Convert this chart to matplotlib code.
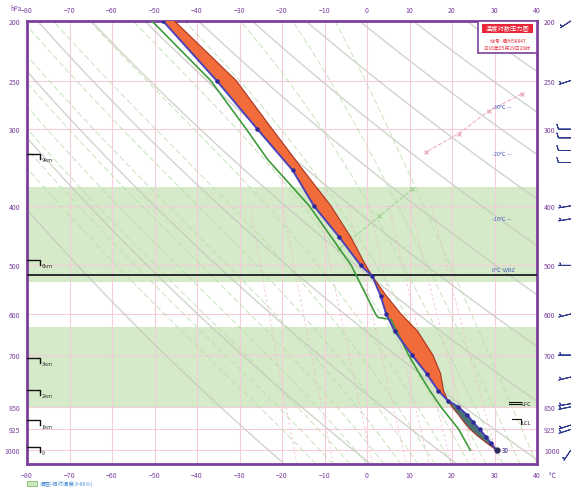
import numpy as np
import matplotlib.pyplot as plt
from matplotlib.patches import Rectangle
from matplotlib.ticker import NullLocator

plt.rcParams['font.family'] = ['Noto Sans CJK SC', 'DejaVu Sans']

# 探空数据 (hPa, ℃)
levels = [1000, 975, 950, 925, 900, 875, 850, 830, 800, 750, 700, 640, 600,
          560, 520, 500, 450, 400, 350, 300, 250, 200]
temp = [30.5, 29.2, 28.0, 26.5, 25.0, 23.5, 21.5, 19.0, 16.8, 14.0, 10.6, 6.5,
        4.5, 3.2, 1.2, -1.5, -6.5, -12.5, -17.5, -25.8, -35.4, -48.0]
parcel = [30.5, 28.3, 26.2, 24.3, 22.8, 21.5, 20.0, 19.0, 18.0, 17.3, 15.5, 11.9,
          8.0, 4.5, 1.2, -0.3, -3.8, -8.5, -15.0, -22.3, -30.8, -45.3]

dew_p = [1000, 925, 850, 800, 750, 700, 640, 612, 608, 600, 500, 400, 336, 300, 250, 200]
dew_t = [24.3, 21.6, 17.4, 14.8, 12.3, 9.8, 7.0, 5.6, 2.6, 2.0, -3.7, -13.6, -23.4,
         -28.4, -36.8, -50.6]

# 其他辅助曲线
pink_p = [263, 280, 305, 327]
pink_t = [36.4, 28.7, 21.6, 13.9]
gdash_p = [376, 416, 470]
gdash_t = [10.6, 2.9, -6.5]

# 湿层 (RH>=80%) 及 0℃层
wet_layers = [(373, 532), (631, 850)]
zero_level = 518

# 高度标记
height_labels = ['9km', '6km', '3km', '2km', '1km', '0']
height_p = [329, 490, 707, 798, 894, 988]

# 温度标记
tlabel_text = ['-30℃ —', '-20℃ —', '-10℃ —', '0℃  WBZ']
tlabel_p = [276, 329, 420, 508]

# 风
wind_p = [1000, 925, 910, 850, 840, 760, 700, 600, 500, 420, 400, 340, 325, 310, 300, 250, 200]
wind_u = [2, 6, 6, 5, 6, 4, 4, 4, 5, 6, 6, 8, 8, 8, 8, 6, 6]
wind_v = [3, 2, 2, 1, 1, 1, 0, 1, 0, 1, 1, 0, 0, 0, 0, 2, 4]

p_ticks = [200, 250, 300, 400, 500, 600, 700, 850, 925, 1000]
t_ticks = list(range(-80, 41, 10))

purple = '#7B3F9E'
pink = '#F5CCDA'

fig = plt.figure(figsize=(5.71, 4.89), dpi=100)
ax = fig.add_axes([27/571, 1-465/489, 510/571, 443/489])
ax.set_yscale('log')
ax.set_xlim(-80, 40)
ax.set_ylim(1053, 200)
ax.yaxis.set_minor_locator(NullLocator())
ax.set_yticks(p_ticks)
ax.set_yticklabels([str(p) for p in p_ticks])
ax.set_xticks(t_ticks)
ax.tick_params(labeltop=True, labelright=True, length=0, labelsize=5,
               colors=purple, pad=5)
for s in ax.spines.values():
    s.set_color(purple)
    s.set_linewidth(2)

# 背景网格
pp = np.geomspace(200, 1053, 120)
for t in t_ticks:
    ax.plot([t, t], [200, 1053], color=pink, lw=0.8, zorder=1)
for p in p_ticks[1:]:
    ax.plot([-80, 40], [p, p], color=pink, lw=0.8, zorder=1)

# 干绝热线
for th in range(250, 520, 20):
    ax.plot(th * (pp / 1000) ** 0.286 - 273.15, pp, color='#C4CABF', lw=1.0,
            alpha=0.8, zorder=1)

# 湿绝热线
def moist(t0):
    Rd, cp, Lv, eps = 287.0, 1005.0, 2.5e6, 0.622
    ps = np.geomspace(1053, 200, 200)
    T = t0 + 273.15
    out = [T]
    for i in range(1, len(ps)):
        es = 6.112 * np.exp(17.67 * (T - 273.15) / (T - 29.65))
        rs = eps * es / (ps[i-1] - es)
        dTdp = (Rd * T + Lv * rs) / (cp + Lv**2 * rs * eps / (Rd * T**2)) / ps[i-1]
        T = T + dTdp * (ps[i] - ps[i-1])
        out.append(T)
    return np.array(out) - 273.15, ps

for t0 in range(-12, 44, 4):
    mt, mp = moist(t0)
    ax.plot(mt, mp, color='#B9DDAB', lw=0.7, ls=(0, (6, 3)), alpha=0.8, zorder=1)

# 等饱和比湿线
for w in [1, 2, 4, 7, 10, 14, 20, 28]:
    pw = np.geomspace(400, 1053, 40)
    es = w * pw / (622 + w)
    lg = np.log(es / 6.112)
    ax.plot(243.5 * lg / (17.67 - lg), pw, color='#F0C0D0', lw=0.6,
            ls=(0, (3, 3)), zorder=1)

ax.plot(pink_t, pink_p, color='#EFB0C4', lw=0.8, ls='--', marker='x', ms=3, zorder=2)
ax.plot(gdash_t, gdash_p, color='#A8D19A', lw=0.8, ls='--', marker='x', ms=3, zorder=2)

# 湿层
for top, bot in wet_layers:
    ax.axhspan(top, bot, color='#CDE7BF', alpha=0.85, lw=0, zorder=0.5)

ax.plot([-80, 40], [zero_level, zero_level], color='#1E1E1E', lw=1.3, zorder=4)

# CAPE / CIN
lv = np.array(levels)
te = np.array(temp)
pa = np.array(parcel)
ax.fill_betweenx(lv, te, pa, where=pa >= te, interpolate=True,
                 color='#F26B3A', lw=0, zorder=3)
ax.fill_betweenx(lv, te, pa, where=pa < te, interpolate=True,
                 color='#4B7574', lw=0, zorder=3)
ax.plot(parcel, levels, color='#A8331E', lw=0.8, zorder=4)
ax.plot(dew_t, dew_p, color='#3E9B3A', lw=1.2, zorder=4)
ax.plot(temp, levels, color='#4A42B8', lw=1.4, marker='o', ms=2.2,
        mfc='#2E2A9A', mec='#2E2A9A', zorder=5)
ax.plot([temp[0]], [levels[0]], marker='o', ms=3.5, color='#2A2A60', zorder=6)
ax.text(temp[0] + 1.2, levels[0], '30', fontsize=4.5, color='#2A2A80',
        va='center', zorder=6)

# 高度标记
for lab, p in zip(height_labels, height_p):
    ax.plot([-80, -77, -77], [p, p, p * 1.018], color='#111111', lw=1, zorder=6,
            clip_on=False)
    ax.text(-76.6, p * 1.022, lab, fontsize=4, color='#333333', va='center', zorder=6)

# 温度标记
for lab, p in zip(tlabel_text, tlabel_p):
    ax.text(29.3, p, lab, fontsize=4, color='#4A5FC0', va='center', zorder=6)

# LFC / LCL
ax.plot([33.5, 36.3], [834, 834], color='#111111', lw=0.8, zorder=6)
ax.plot([33.5, 36.3], [842, 842], color='#111111', lw=0.8, zorder=6)
ax.text(36.4, 840, 'LFC', fontsize=4, color='#222222', va='center', zorder=6)
ax.plot([34.0, 36.3, 36.3], [888, 888, 905], color='#111111', lw=0.8, zorder=6)
ax.text(36.4, 900, 'LCL', fontsize=4, color='#222222', va='center', zorder=6)

# 标题框
ax.add_patch(Rectangle((0.884, 0.928), 0.116, 0.072, transform=ax.transAxes,
                       facecolor='white', edgecolor=purple, lw=1.2, zorder=7))
ax.add_patch(Rectangle((0.892, 0.972), 0.1, 0.022, transform=ax.transAxes,
                       facecolor='#E8283A', edgecolor='none', zorder=8))
ax.text(0.942, 0.983, '温度对数压力图', transform=ax.transAxes, fontsize=4.5,
        color='white', ha='center', va='center', zorder=9)
ax.text(0.942, 0.956, '站号: 福州58847', transform=ax.transAxes, fontsize=3.5,
        color='#E8283A', ha='center', va='center', zorder=9)
ax.text(0.942, 0.941, '2016年05月29日20时', transform=ax.transAxes, fontsize=3.5,
        color='#E8283A', ha='center', va='center', zorder=9)

fig.text(10/571, 1-9/489, 'hPa', fontsize=4.5, color=purple, va='center')
fig.text(549/571, 1-476/489, '℃', fontsize=5, color=purple, va='center')

# 图例
fig.patches.append(Rectangle((27/571, 1-487/489), 10/571, 5/489, transform=fig.transFigure,
                             facecolor='#CDE7BF', edgecolor='#7FBF6F', lw=0.6))
fig.text(40/571, 1-484/489, '湿层(相对湿度≥80%)', fontsize=4, color='#4A8FD8', va='center')

# 风羽
axw = fig.add_axes([556/571, 1-465/489, 15/571, 443/489], sharey=ax)
axw.set_xlim(0, 1)
axw.axis('off')
axw.barbs([0.98] * len(wind_p), wind_p, wind_u, wind_v, length=4.2, color='#2E3A8C',
          lw=0.7, clip_on=False)

fig.savefig('out.png', dpi=100)
